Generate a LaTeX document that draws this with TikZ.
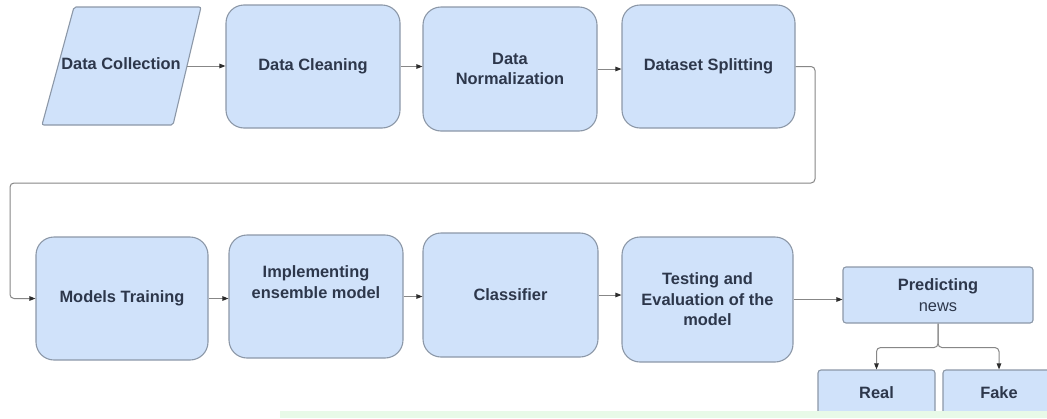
\documentclass[tikz,border=0pt]{standalone}
\usepackage{fontspec}
\setmainfont{Liberation Sans}
\usetikzlibrary{arrows.meta}
\definecolor{boxfill}{RGB}{208,226,250}
\definecolor{boxline}{RGB}{140,152,168}
\definecolor{txt}{RGB}{45,55,75}
\definecolor{linec}{RGB}{135,135,135}
\definecolor{tipc}{RGB}{45,45,45}
\definecolor{bandc}{RGB}{232,250,232}
\tikzset{
  stepbox/.style={draw=boxline, fill=boxfill, line width=1.1pt, rounded corners=18pt,
    inner sep=0pt, align=center, text=txt, font=\fontsize{16.4}{20.5}\selectfont\bfseries},
  smallbox/.style={stepbox, rounded corners=3pt},
  conn/.style={draw=linec, line width=1pt,
    -{Triangle[length=6pt,width=4.5pt,color=tipc]}},
  plainline/.style={draw=linec, line width=1pt},
}
\begin{document}
\begin{tikzpicture}[x=1pt,y=-1pt]
\useasboundingbox (0,0) rectangle (1047,418);
\fill[white] (0,0) rectangle (1047,418);
% Data Collection parallelogram
\draw[draw=boxline, fill=boxfill, line width=1.1pt, rounded corners=2pt]
  (74,7) -- (201,7) -- (173,125) -- (42,125) -- cycle;
\node[inner sep=0pt, text=txt, font=\fontsize{16.4}{20.5}\selectfont\bfseries] (dc) at (121,64) {Data Collection};
\coordinate (dcE) at (187,66);
% top row
\node[stepbox, minimum width=174, minimum height=123] (clean) at (313,66.5) {Data Cleaning};
\node[stepbox, minimum width=174, minimum height=124] (norm) at (510,69) {Data\\Normalization};
\node[stepbox, minimum width=173, minimum height=123] (split) at (708.5,66.5) {Dataset Splitting};
% bottom row
\node[stepbox, minimum width=172, minimum height=123] (train) at (122,298.5) {Models Training};
\node[stepbox, minimum width=174, minimum height=123] (impl) at (316,296.5) {Implementing\\ensemble model\\[8pt]};
\node[stepbox, minimum width=175, minimum height=124] (clf) at (510.5,295) {Classifier};
\node[stepbox, minimum width=171, minimum height=125] (test) at (707.5,299.5) {Testing and\\Evaluation of the\\model};
\node[smallbox, minimum width=190, minimum height=56] (pred) at (938,295) {Predicting\\\mdseries news};
\node[smallbox, minimum width=117, minimum height=46] (real) at (876.5,393) {Real};
\node[smallbox, minimum width=112, minimum height=46] (fake) at (999,393) {Fake};
% connectors
\draw[conn] (dcE) -- (dcE -| clean.west);
\draw[conn] (clean.east) -- (clean.east -| norm.west);
\draw[conn] (norm.east) -- (norm.east -| split.west);
\draw[conn, rounded corners=4pt] (split.east) -- (815,66.5) -- (815,183) -- (10,183) -- (10,298.5) -- (train.west);
\draw[conn] (train.east) -- (train.east -| impl.west);
\draw[conn] (impl.east) -- (impl.east -| clf.west);
\draw[conn] (clf.east) -- (clf.east -| test.west);
\draw[conn] (test.east) -- (test.east -| pred.west);
\draw[conn, rounded corners=4pt] (pred.south) -- ++(0,24) -| (real.north);
\draw[conn, rounded corners=4pt] (pred.south) -- ++(0,24) -| (fake.north);
% bottom band
\fill[bandc] (280,411) rectangle (1047,418);
\end{tikzpicture}
\end{document}
